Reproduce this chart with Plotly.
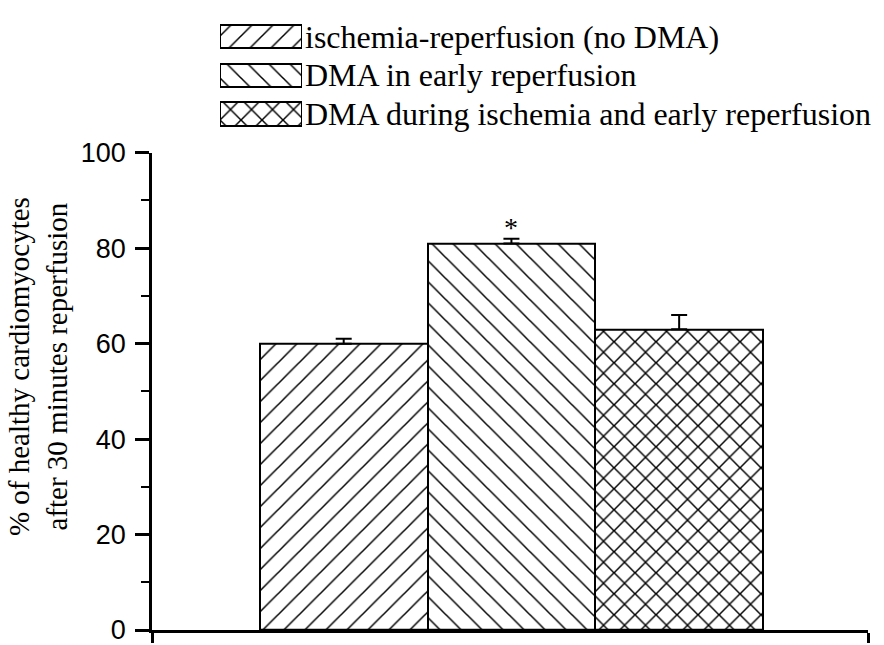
import plotly.graph_objects as go

# Treatment groups and measured outcome (% healthy cardiomyocytes after 30 min reperfusion)
groups = [
    "ischemia-reperfusion (no DMA)",
    "DMA in early reperfusion",
    "DMA during ischemia and early reperfusion",
]
healthy_pct = [60, 81, 63]
sem = [1, 1, 3]
significance = ["", "*", ""]

# Hatch style per group
hatch_shapes = ["/", "\\", "x"]
hatch_solidity = [0.1, 0.1, 0.19]

x_pos = list(range(1, len(groups) + 1))
x_range = [-0.143, 4.126]

SERIF = "Liberation Serif, Times New Roman, serif"
SANS = "Liberation Sans, Arial, sans-serif"

pattern = dict(
    shape=hatch_shapes,
    size=14.85,
    solidity=hatch_solidity,
    fgcolor="black",
    bgcolor="white",
    fillmode="replace",
)

fig = go.Figure()

# Main bars
fig.add_trace(go.Bar(
    x=x_pos,
    y=healthy_pct,
    width=1,
    marker=dict(color="white", line=dict(color="black", width=2), pattern=pattern),
    error_y=dict(type="data", array=sem, arrayminus=[0] * len(sem), symmetric=False,
                 color="black", thickness=2, width=8),
    showlegend=False,
    hoverinfo="skip",
))

# Legend key drawn as small hatched boxes with the group names as tick labels
legend_rows = list(range(len(groups) - 1, -1, -1))
fig.add_trace(go.Bar(
    x=[1] * len(groups),
    y=legend_rows,
    orientation="h",
    width=0.6,
    marker=dict(color="white", line=dict(color="black", width=2), pattern=pattern),
    xaxis="x3",
    yaxis="y3",
    showlegend=False,
    hoverinfo="skip",
))

# Significance markers above the error bars
for xp, v, e, s in zip(x_pos, healthy_pct, sem, significance):
    if s:
        fig.add_annotation(x=xp, y=v + e, text=s, showarrow=False, yanchor="bottom",
                           font=dict(family=SERIF, size=28, color="black"), yshift=-6)

main_top = (634 - 142) / 634

fig.update_layout(
    width=884,
    height=645,
    margin=dict(l=152, r=16, t=0, b=11),
    paper_bgcolor="white",
    plot_bgcolor="white",
    bargap=0,
    font=dict(family=SERIF, color="black"),
    xaxis=dict(
        domain=[0, 1],
        range=x_range,
        showline=True, linecolor="black", linewidth=2.5,
        tickvals=x_range, ticks="outside", ticklen=10, tickwidth=2.5, tickcolor="black",
        showticklabels=False, showgrid=False, zeroline=False,
    ),
    xaxis2=dict(
        overlaying="x", anchor="y", side="bottom",
        range=x_range,
        tickvals=[x_range[1]], ticks="inside", ticklen=8, tickwidth=2.5, tickcolor="black",
        showticklabels=False, showgrid=False, zeroline=False, showline=False,
    ),
    yaxis=dict(
        domain=[0, main_top],
        range=[0, 100],
        dtick=20,
        showline=True, linecolor="black", linewidth=2.5,
        ticks="outside", ticklen=14, tickwidth=2.5, tickcolor="black",
        minor=dict(dtick=10, ticks="outside", ticklen=8, tickwidth=2, tickcolor="black"),
        tickfont=dict(family=SANS, size=27, color="black"),
        ticklabelstandoff=4,
        ticklabeloverflow="allow",
        showgrid=False, zeroline=False,
    ),
    xaxis3=dict(
        domain=[(220 - 152) / 716, (302 - 152) / 716],
        anchor="y3", range=[0, 1],
        visible=False, fixedrange=True,
    ),
    yaxis3=dict(
        domain=[(634 - 120) / 634, 1.0],
        anchor="x3", side="right",
        range=[-0.45, 2.55],
        tickvals=legend_rows, ticktext=groups,
        ticks="", showline=False, showgrid=False, zeroline=False,
        tickfont=dict(family=SERIF, size=32, color="black"),
        ticklabelstandoff=2,
        ticklabeloverflow="allow",
        fixedrange=True,
    ),
)

# Two-line y-axis title
fig.add_annotation(
    xref="paper", yref="paper",
    x=-(152 - 38) / 716, y=(634 - 363) / 634,
    text="% of healthy cardiomyocytes<br>after 30 minutes reperfusion",
    textangle=-90, showarrow=False, xanchor="center", yanchor="middle",
    font=dict(family=SERIF, size=29, color="black"),
)

fig.add_trace(go.Scatter(x=[], y=[], xaxis="x2", yaxis="y", showlegend=False))

fig.write_html("out.html")
